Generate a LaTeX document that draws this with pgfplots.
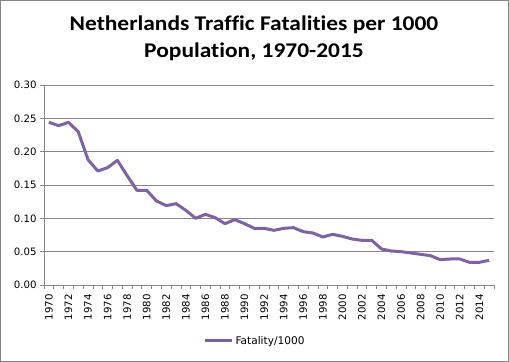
\documentclass[border=0pt]{standalone}
\usepackage{pgfplots}
\pgfplotsset{compat=1.18}
\usepackage{fontspec}
\setmainfont{DejaVu Sans}
\newfontfamily\titlefont[FakeStretch=1.12, Ligatures=NoCommon]{Carlito}
\definecolor{linepurple}{HTML}{7E62A1}
\definecolor{gridgray}{HTML}{868686}
\begin{document}
\begin{tikzpicture}
\path[use as bounding box] (0,0) rectangle (509bp,362bp);
\draw[gridgray, line width=1bp] (0.5bp,0.5bp) rectangle (508.5bp,361.5bp);
\node[anchor=base, font={\titlefont\bfseries\fontsize{21}{24}\selectfont}] at (254bp,331bp) {Netherlands Traffic Fatalities per 1000};
\node[anchor=base, font={\titlefont\bfseries\fontsize{21}{24}\selectfont}] at (254bp,304bp) {Population, 1970-2015};
\begin{axis}[
  at={(44bp,77bp)}, anchor=south west,
  width=450bp, height=200bp, scale only axis,
  xmin=1969.5, xmax=2015.5, ymin=0, ymax=0.30,
  axis x line=bottom, axis y line=left,
  axis line style={gridgray, line width=0.8bp, -},
  xtick={1970,1972,...,2014},
  xticklabels={1970,1972,1974,1976,1978,1980,1982,1984,1986,1988,1990,1992,1994,1996,1998,2000,2002,2004,2006,2008,2010,2012,2014},
  minor xtick={1969.5,1970.5,...,2015.5},
  major x tick style={draw=none},
  minor x tick style={gridgray, line width=0.8bp},
  ytick={0,0.05,0.10,0.15,0.20,0.25,0.30},
  yticklabel style={/pgf/number format/fixed, /pgf/number format/fixed zerofill, /pgf/number format/precision=2},
  y tick style={gridgray, line width=0.8bp},
  major tick length=4bp, minor tick length=4bp,
  tick align=outside,
  ymajorgrids, grid style={gridgray, line width=0.8bp},
  /pgf/number format/assume math mode=true,
  tick label style={font=\fontsize{10.2}{12}\selectfont},
  x tick label style={rotate=90, anchor=east},
  xticklabel shift=2bp,
  legend style={at={(0.469,-0.28)}, anchor=center, draw=none, fill=none, font=\fontsize{10.6}{12}\selectfont, inner sep=0pt},
  legend image code/.code={\draw[#1] (0bp,0bp) -- (27bp,0bp);},
  legend cell align=left,
  clip=false,
]
\addplot[linepurple, line width=3bp, line join=round, mark=none] coordinates {
(1970,0.244) (1971,0.239) (1972,0.244) (1973,0.230) (1974,0.188) (1975,0.171)
(1976,0.176) (1977,0.187) (1978,0.164) (1979,0.142) (1980,0.142) (1981,0.126)
(1982,0.119) (1983,0.122) (1984,0.112) (1985,0.100) (1986,0.106) (1987,0.101)
(1988,0.092) (1989,0.098) (1990,0.092) (1991,0.085) (1992,0.085) (1993,0.082)
(1994,0.085) (1995,0.086) (1996,0.080) (1997,0.078) (1998,0.072) (1999,0.076)
(2000,0.073) (2001,0.069) (2002,0.067) (2003,0.067) (2004,0.054) (2005,0.051)
(2006,0.050) (2007,0.048) (2008,0.046) (2009,0.044) (2010,0.038) (2011,0.039)
(2012,0.039) (2013,0.034) (2014,0.034) (2015,0.037)
};
\addlegendentry{Fatality/1000}
\end{axis}
\end{tikzpicture}
\end{document}
